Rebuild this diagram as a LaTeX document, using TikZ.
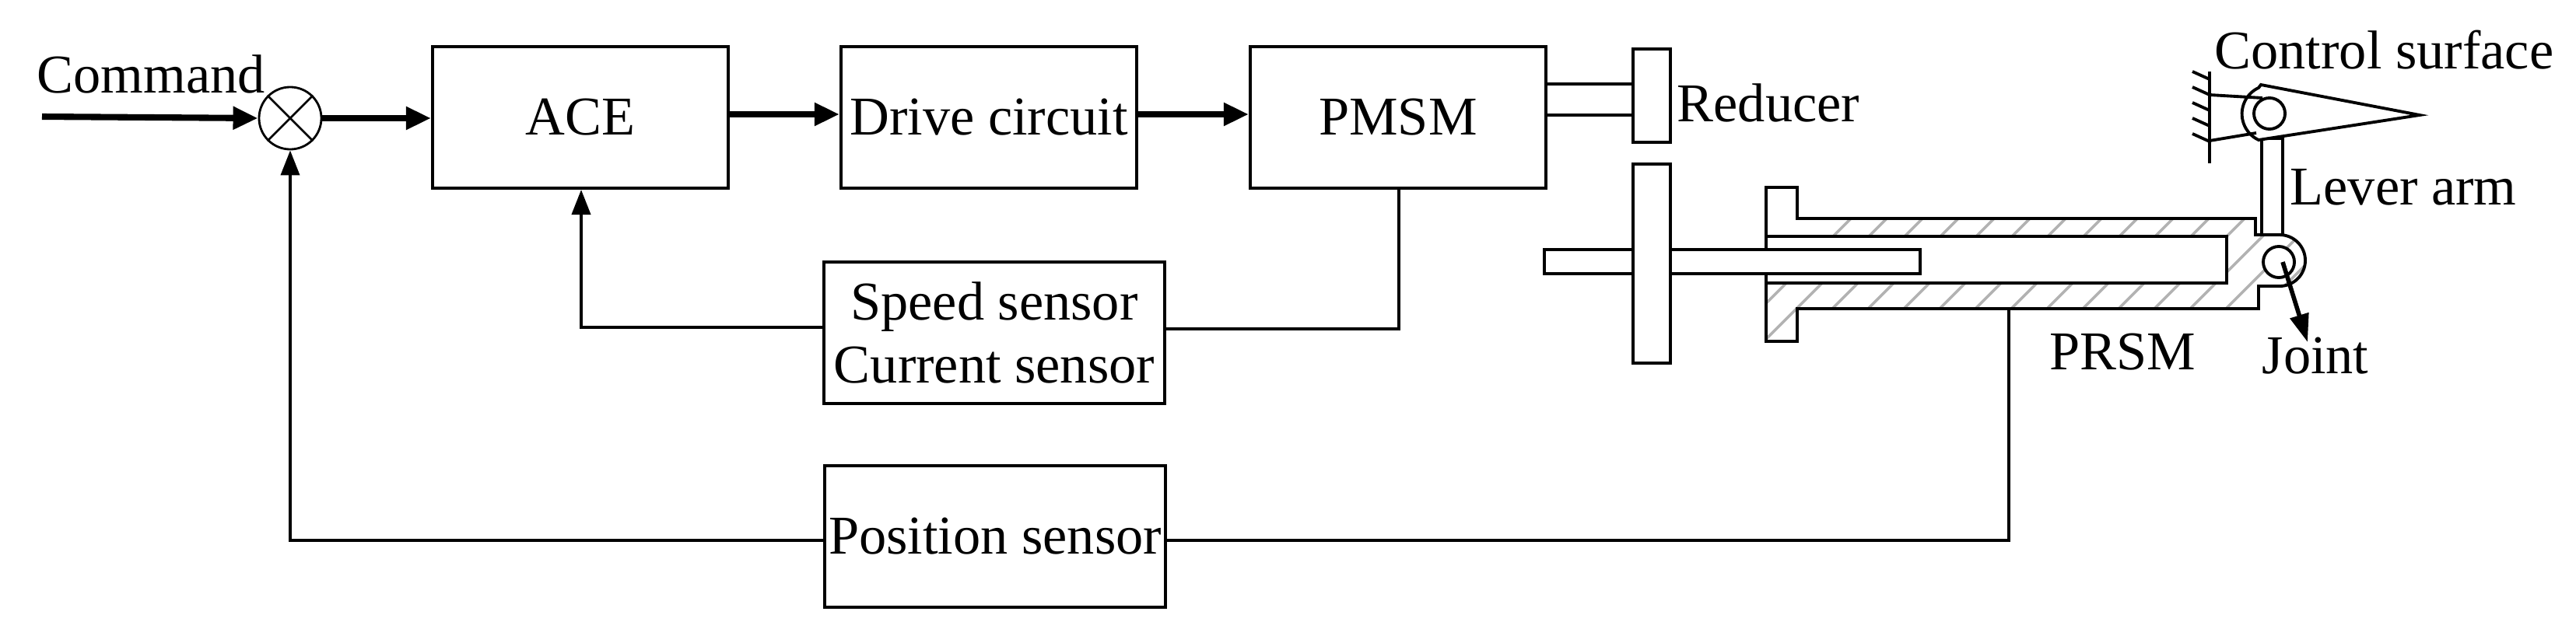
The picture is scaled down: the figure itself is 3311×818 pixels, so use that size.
\documentclass[tikz,border=0pt]{standalone}
\usepackage{fontspec}
\setmainfont{Liberation Serif}
\usetikzlibrary{arrows.meta}
\begin{document}
\begin{tikzpicture}[x=0.01cm,y=-0.01cm,
  box/.style={draw,line width=1.1pt,minimum width=3.8cm,minimum height=1.82cm,inner sep=0pt,align=center,font=\fontsize{20}{23}\selectfont},
  lab/.style={font=\fontsize{20}{23}\selectfont,inner sep=0pt,anchor=base west},
  sig/.style={line width=2.3pt,-{Triangle[length=0.32cm,width=0.28cm]}},
  fb/.style={line width=1.1pt,-{Triangle[length=0.32cm,width=0.24cm]}},
  ln/.style={line width=1.1pt},
  mech/.style={line width=1.1pt,fill=white}]
\useasboundingbox (0,0) rectangle (3311,818);
% blocks
\node[box] (ace) at (746,151) {ACE};
\node[box] (drv) at (1271,151) {Drive circuit};
\node[box] (pmsm) at (1797,151) {PMSM};
\node[box,minimum width=4.37cm] (spd) at (1278,428) {Speed sensor\\Current sensor};
\node[box,minimum width=4.37cm] (pos) at (1279,690) {Position sensor};
\node[draw,circle,line width=0.8pt,minimum size=0.8cm,inner sep=0pt] (sum) at (373,152) {};
\draw[line width=0.8pt] (sum.north west)--(sum.south east) (sum.north east)--(sum.south west);
\node[lab] (cmd) at (47,119) {Command};
\coordinate (cin) at (54,150);
\draw[sig] (cin) -- (sum.west);
\draw[sig] (sum.east) -- (ace.west |- sum.east);
\draw[sig] (ace.east |- 0,147) -- (drv.west |- 0,147);
\draw[sig] (drv.east |- 0,147) -- (pmsm.west |- 0,147);
% speed feedback
\coordinate (s1) at (747,421);
\draw[fb] (spd.west |- s1) -- (s1) -- (ace.south -| s1);
\coordinate (s2) at (1798,423);
\draw[ln] (spd.east |- s2) -- (s2) -- (pmsm.south -| s2);
% position feedback
\coordinate (p1) at (373,695);
\draw[fb] (pos.west |- p1) -- (p1) -- (sum.south);
\coordinate (p2) at (2582,695);
\coordinate (p3) at (2582,397);
\draw[ln] (pos.east |- p2) -- (p2) -- (p3);
% reducer
\draw[ln] (pmsm.east |- 0,108) -- (2099,108) (pmsm.east |- 0,148) -- (2099,148);
\draw[mech] (2099,63) rectangle (2147,183);
\node[lab] (red) at (2155,156) {Reducer};
% nut housing
\def\housing{(2270,241) -- (2310,241) -- (2310,281) -- (2899,281) -- (2899,302) -- (2930,302) arc[start angle=90,end angle=-90,radius=0.33cm] -- (2903,368) -- (2903,397) -- (2310,397) -- (2310,439) -- (2270,439) -- cycle}
\begin{scope}
\clip \housing;
\fill[white] (2270,241) rectangle (2970,439);
\foreach \i in {0,...,16} {
  \draw[gray!60,line width=1pt] (2190+\i*46,470) -- ++(250,-250);
}
\fill[white] (2270,304) rectangle (2862,364);
\end{scope}
\draw[ln] \housing;
\draw[ln] (2270,304) -- (2862,304) -- (2862,364) -- (2270,364);
% screw shaft and gear
\draw[mech] (1985,321) rectangle (2468,352);
\draw[mech] (2099,211) rectangle (2147,467);
% lever arm
\draw[mech] (2907,178) rectangle (2934,302);
% joint
\draw[ln,fill=white] (2929,337) circle[radius=0.2cm];
\coordinate (jc) at (2934,337);
\coordinate (jt) at (2966,440);
\draw[line width=1.6pt,-{Triangle[length=0.36cm,width=0.24cm]}] (jc) -- (jt);
% control surface
\draw[ln] (2840,92) -- (2840,210);
\foreach \yy in {102,122,142,162,182} { \draw[ln] (2840,\yy) -- ++(-22,-10); }
\draw[mech] (2906,109) -- (3110,148) -- (2903,180) arc[start angle=-115,end angle=-245,radius=0.37cm] -- cycle;
\draw[ln] (2840,122) -- (2908,126);
\draw[ln] (2840,181) -- (2900,171);
\draw[ln,fill=white] (2917,146) circle[radius=0.2cm];
\node[lab] (cs) at (2846,88) {Control surface};
\node[lab] (la) at (2943,263) {Lever arm};
\node[lab] (jn) at (2907,480) {Joint};
\node[lab] (pr) at (2634,475) {PRSM};
\end{tikzpicture}
\end{document}
